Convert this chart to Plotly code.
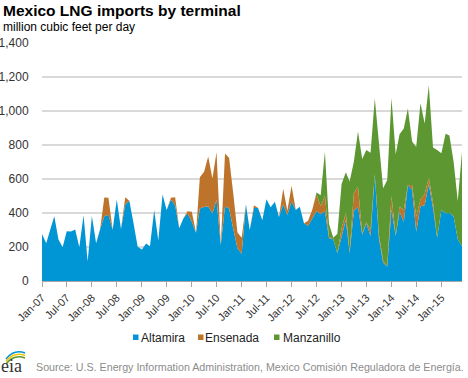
import plotly.graph_objects as go
import pandas as pd

months = pd.date_range("2007-01-01", "2015-06-01", freq="MS")

altamira = [276, 222, 299, 381, 245, 199, 292, 291, 303, 199,
            387, 115, 382, 222, 305, 381, 390, 302, 480, 306,
            450, 472, 338, 201, 185, 220, 204, 416, 238, 509,
            418, 480, 446, 311, 369, 397, 348, 284, 426, 436,
            439, 397, 478, 212, 438, 426, 305, 192, 160, 452,
            300, 430, 430, 357, 481, 434, 466, 377, 452, 388,
            467, 417, 437, 339, 325, 370, 410, 394, 412, 251,
            245, 163, 270, 359, 165, 412, 437, 272, 339, 265,
            628, 250, 108, 85, 420, 265, 408, 347, 565, 535,
            290, 440, 445, 570, 430, 255, 417, 398, 400, 380,
            245, 205]

ensenada = [0, 0, 0, 0, 0, 0, 0, 0, 0, 0,
            0, 0, 0, 0, 0, 110, 100, 0, 0, 0,
            42, 0, 0, 0, 0, 0, 0, 0, 0, 0,
            0, 10, 46, 0, 0, 13, 60, 0, 184, 206,
            294, 206, 280, 0, 312, 297, 205, 94, 95, 0,
            0, 16, 0, 0, 0, 0, 0, 0, 90, 25,
            93, 0, 0, 0, 30, 50, 100, 46, 88, 9,
            0, 0, 40, 41, 10, 106, 118, 8, 6, 35,
            0, 20, 12, 0, 80, 0, 29, 71, 0, 30,
            90, 40, 65, 38, 30, 0, 0, 0, 0, 0,
            0, 0]

manzanillo = [0] * 66 + [
            10, 65, 260, 75, 10, 115, 260, 240, 410, 185,
            324, 438, 425, 455, 446, 530, 425, 509, 577, 480,
            426, 479, 450, 255, 408, 565, 416, 544, 326, 515,
            334, 468, 456, 320, 225, 555]

series = [("Altamira", altamira, "#0096d6"),
          ("Ensenada", ensenada, "#bd732a"),
          ("Manzanillo", manzanillo, "#5d9732")]

fig = go.Figure()
for name, vals, color in series:
    fig.add_trace(go.Scatter(
        x=months, y=vals, name=name, mode="lines",
        stackgroup="one", line=dict(width=0, color=color),
        fillcolor=color, hoverinfo="x+y+name", showlegend=False))

font_family = "Liberation Sans, Arial, sans-serif"

fig.update_layout(
    width=468, height=378,
    margin=dict(l=42, r=6, t=43, b=97, autoexpand=False),
    paper_bgcolor="white", plot_bgcolor="white",
    font=dict(family=font_family, size=11, color="#333333"),
    showlegend=False,
    xaxis=dict(type="date", range=[months[0], months[-1]],
               tickformat="%b-%y", dtick="M6", tick0="2007-01-01",
               tickangle=-45, ticks="outside", ticklen=5,
               tickcolor="#a6a6a6", showline=True, linecolor="#a6a6a6",
               linewidth=1, showgrid=False, zeroline=False,
               automargin=False,
               tickfont=dict(size=11, color="#333333")),
    yaxis=dict(range=[0, 1400], dtick=200, tickformat=",d",
               showgrid=True, gridcolor="#d9d9d9", gridwidth=1.5,
               zeroline=False, showline=False,
               ticks="outside", ticklen=10, tickcolor="rgba(0,0,0,0)",
               automargin=False,
               tickfont=dict(size=12, color="#333333")),
)

PW, PH = 420.0, 238.0
def px(x):
    return (x - 42) / PW
def py(y):
    return 1 + (43 - y) / PH

fig.add_annotation(text="<b>Mexico LNG imports by terminal</b>",
                   xref="paper", yref="paper", x=px(1), y=py(10),
                   xanchor="left", yanchor="middle", showarrow=False,
                   font=dict(size=15.5, color="#000000", family=font_family))
fig.add_annotation(text="million cubic feet per day",
                   xref="paper", yref="paper", x=px(1), y=py(27),
                   xanchor="left", yanchor="middle", showarrow=False,
                   font=dict(size=12, color="#000000", family=font_family))
fig.add_annotation(text="Source: U.S. Energy Information Administration, Mexico Comisión Reguladora de Energía.",
                   xref="paper", yref="paper", x=px(34), y=py(367),
                   xanchor="left", yanchor="middle", showarrow=False,
                   font=dict(size=10.7, color="#8c8c8c", family=font_family))
fig.add_annotation(text="eia",
                   xref="paper", yref="paper", x=px(-1), y=py(366),
                   xanchor="left", yanchor="middle", showarrow=False,
                   font=dict(size=18, color="#333333", family="Liberation Serif, serif"))

# legend (squares + labels)
legend_pos = [(133, 141), (198, 205), (274, 283)]
for (name, vals, color), (sx, tx) in zip(series, legend_pos):
    fig.add_shape(type="rect", xref="paper", yref="paper",
                  x0=px(sx), x1=px(sx + 5.5), y0=py(340), y1=py(334.5),
                  fillcolor=color, line=dict(width=0))
    fig.add_annotation(text=name, xref="paper", yref="paper",
                       x=px(tx - 2), y=py(337.5), xanchor="left", yanchor="middle",
                       showarrow=False,
                       font=dict(size=12, color="#222222", family=font_family))

# small logo swooshes
for dy, col in [(0, "#0096d6"), (2.5, "#f2c500"), (5, "#5d9732")]:
    fig.add_shape(type="path", xref="paper", yref="paper",
                  path=f"M {px(6)},{py(359+dy)} Q {px(14)},{py(349+dy)} {px(25)},{py(353+dy)}",
                  line=dict(color=col, width=1.5))

fig.write_html("out.html", config={"displayModeBar": False},
               post_script="document.body.style.margin='0';document.body.style.padding='0';")
